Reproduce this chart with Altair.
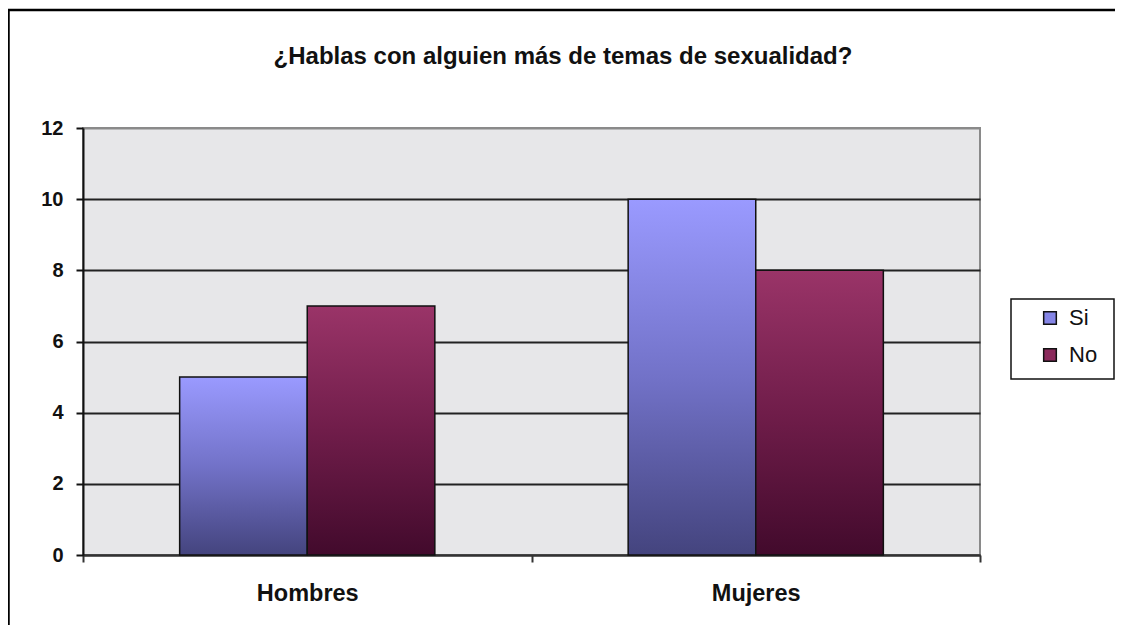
import altair as alt
import pandas as pd

# ---- data ----
grupos = ["Hombres", "Hombres", "Mujeres", "Mujeres"]
series = ["Si", "No", "Si", "No"]
valores = [5, 7, 10, 8]
orden_series = ["Si", "No"]
ticks_y = [0, 2, 4, 6, 8, 10, 12]
titulo = "¿Hablas con alguien más de temas de sexualidad?"

df = pd.DataFrame({"grupo": grupos, "serie": series, "valor": valores})

FONT = "Liberation Sans"

grad_si = {
    "gradient": "linear", "x1": 0, "y1": 0, "x2": 0, "y2": 1,
    "stops": [
        {"offset": 0, "color": "#9a9aff"},
        {"offset": 0.5, "color": "#7272c8"},
        {"offset": 1, "color": "#44447e"},
    ],
}
grad_no = {
    "gradient": "linear", "x1": 0, "y1": 0, "x2": 0, "y2": 1,
    "stops": [
        {"offset": 0, "color": "#9a3468"},
        {"offset": 0.5, "color": "#701d4a"},
        {"offset": 1, "color": "#420a2c"},
    ],
}

x_enc = alt.X(
    "grupo:N",
    scale=alt.Scale(paddingInner=0, paddingOuter=0),
    axis=alt.Axis(
        title=None, labelAngle=0, tickBand="extent", grid=False,
        domainColor="#333333", domainWidth=2, tickColor="#333333", tickWidth=2,
        tickSize=7, labelFont=FONT, labelFontSize=23.5, labelFontWeight="bold",
        labelColor="#111111", labelPadding=19,
    ),
)
xoff_enc = alt.XOffset("serie:N", sort=orden_series,
                       scale=alt.Scale(paddingInner=0, paddingOuter=0.7575))
y_enc = alt.Y(
    "valor:Q",
    scale=alt.Scale(domain=[0, 12], nice=False, zero=True),
    axis=alt.Axis(
        title=None, values=ticks_y, grid=True,
        gridColor={"condition": {"test": "datum.value == 12", "value": "#8a8a8a"}, "value": "#222222"},
        gridWidth=1.8, domainColor="#111111", domainWidth=2,
        tickColor="#111111", tickWidth=2, tickSize=7,
        labelFont=FONT, labelFontSize=20, labelFontWeight="bold",
        labelColor="#111111", labelPadding=13,
    ),
)

solid = alt.Chart(df).mark_bar().encode(
    x=x_enc, xOffset=xoff_enc, y=y_enc,
    color=alt.Color(
        "serie:N",
        scale=alt.Scale(domain=orden_series, range=["#8585e6", "#8b2a5c"]),
        legend=alt.Legend(
            title=None, orient="none", legendX=956, legendY=179,
            symbolType="square", symbolSize=160, symbolStrokeColor="#111111",
            symbolStrokeWidth=1.5, labelFont=FONT, labelFontSize=22,
            labelColor="#111111", labelOffset=8, rowPadding=15, padding=0,
        ),
    ),
)

grad = alt.Chart(df).mark_bar(stroke="#111111", strokeWidth=1.5).encode(
    x=x_enc, xOffset=xoff_enc, y=y_enc,
    fill=alt.condition("datum.serie == 'Si'", alt.value(grad_si), alt.value(grad_no)),
)

deco_df = pd.DataFrame({"k": [0]})
top_line = alt.Chart(deco_df).mark_rule(color="#000000", strokeWidth=2.5).encode(
    x=alt.value(-75), x2=alt.value(1060), y=alt.value(-118)
)
left_line = alt.Chart(deco_df).mark_rule(color="#000000", strokeWidth=2.5).encode(
    x=alt.value(-74.5), y=alt.value(-119), y2=alt.value(560)
)
legend_box = alt.Chart(deco_df).mark_rect(
    fill="#ffffff", stroke="#111111", strokeWidth=1.5
).encode(
    x=alt.value(928), x2=alt.value(1031), y=alt.value(171), y2=alt.value(251)
)
title_text = alt.Chart(deco_df).mark_text(
    text=titulo, font=FONT, fontSize=24, fontWeight="bold", color="#111111",
    align="center", baseline="alphabetic",
).encode(x=alt.value(480), y=alt.value(-64))

chart = alt.layer(top_line, left_line, legend_box, title_text, solid, grad).properties(
    width=897, height=427,
    autosize=alt.AutoSizeParams(type="none"),
    padding={"left": 75, "top": 120, "right": 135, "bottom": 70},
    background="#ffffff",
).configure_view(
    fill="#e7e7e9", stroke="#8a8a8a", strokeWidth=2
)

chart.save("out.html", embed_options={"renderer": "svg", "actions": False})
